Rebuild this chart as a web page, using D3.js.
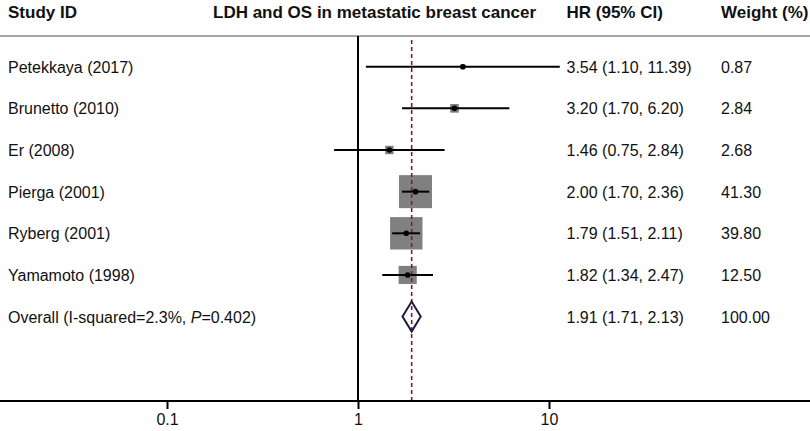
<!DOCTYPE html>
<html><head><meta charset="utf-8">
<script src="https://cdn.jsdelivr.net/npm/d3@7"></script>
<style>body{margin:0;background:#fff}svg{display:block}text{font-family:"Liberation Sans",Arial,sans-serif}</style>
</head><body>
<svg id="c" width="810" height="431"></svg>
<script>
const studies = ["Petekkaya (2017)","Brunetto (2010)","Er (2008)","Pierga (2001)","Ryberg (2001)","Yamamoto (1998)"];
const hr      = [3.54, 3.20, 1.46, 2.00, 1.79, 1.82];
const lower   = [1.10, 1.70, 0.75, 1.70, 1.51, 1.34];
const upper   = [11.39, 6.20, 2.84, 2.36, 2.11, 2.47];
const weights = [0.87, 2.84, 2.68, 41.30, 39.80, 12.50];
const overall = {label:"Overall (I-squared=2.3%, ", p:"P", rest:"=0.402)", hr:1.91, lo:1.71, hi:2.13, w:100.00};
const ticks = [0.1, 1, 10];
const headers = ["Study ID","LDH and OS in metastatic breast cancer","HR (95% CI)","Weight (%)"];

const svg = d3.select("#c");
const x = d3.scaleLog().domain([0.1, 10]).range([167, 549]);
const rows = studies.length + 1;
const y = d3.scaleLinear().domain([0, rows - 1]).range([66.7, 316.6]);
const side = d3.scaleSqrt().domain([0, 41.30]).range([0, 33]);
const fmt = d3.format(".2f");
const yTop = 36, yBottom = 401;
const colHR = 566.5, colW = 721;

// header
const hx = [8, 213, colHR, colW];
headers.forEach((h,i)=>svg.append("text").attr("x",hx[i]).attr("y",17.5).attr("font-size",17).attr("font-weight","bold").attr("fill","#111").text(h));
svg.append("line").attr("x1",0).attr("x2",810).attr("y1",yTop).attr("y2",yTop).attr("stroke","#888").attr("stroke-width",1.5);

// null line
svg.append("line").attr("x1",x(1)).attr("x2",x(1)).attr("y1",yTop).attr("y2",yBottom).attr("stroke","#000").attr("stroke-width",2);

// boxes
const g = svg.append("g");
studies.forEach((s,i)=>{
  const s2 = side(weights[i]);
  g.append("rect").attr("x",x(hr[i])-s2/2).attr("y",y(i)-s2/2).attr("width",s2).attr("height",s2).attr("fill","#808080");
});
// dashed overall line
svg.append("line").attr("x1",x(overall.hr)).attr("x2",x(overall.hr)).attr("y1",yTop+4).attr("y2",yBottom).attr("stroke","#7a1f2b").attr("stroke-width",1.6).attr("stroke-dasharray","4,3");

studies.forEach((s,i)=>{
  svg.append("line").attr("x1",x(lower[i])).attr("x2",x(upper[i])).attr("y1",y(i)).attr("y2",y(i)).attr("stroke","#000").attr("stroke-width",2);
  svg.append("circle").attr("cx",x(hr[i])).attr("cy",y(i)).attr("r",2.8).attr("fill","#000");
  svg.append("text").attr("x",8).attr("y",y(i)+6).attr("font-size",16).attr("fill","#111").text(s);
  svg.append("text").attr("x",colHR).attr("y",y(i)+6).attr("font-size",16).attr("fill","#111").text(`${fmt(hr[i])} (${fmt(lower[i])}, ${fmt(upper[i])})`);
  svg.append("text").attr("x",colW).attr("y",y(i)+6).attr("font-size",16).attr("fill","#111").text(fmt(weights[i]));
});

// overall diamond
const oy = y(rows-1);
svg.append("path").attr("d",`M${x(overall.lo)},${oy} L${x(overall.hr)},${oy-15} L${x(overall.hi)},${oy} L${x(overall.hr)},${oy+15} Z`)
  .attr("fill","none").attr("stroke","#1c1a40").attr("stroke-width",2);
const ot = svg.append("text").attr("x",8).attr("y",oy+6).attr("font-size",16).attr("fill","#111");
ot.append("tspan").text(overall.label);
ot.append("tspan").attr("font-style","italic").text(overall.p);
ot.append("tspan").text(overall.rest);
svg.append("text").attr("x",colHR).attr("y",oy+6).attr("font-size",16).attr("fill","#111").text(`${fmt(overall.hr)} (${fmt(overall.lo)}, ${fmt(overall.hi)})`);
svg.append("text").attr("x",colW).attr("y",oy+6).attr("font-size",16).attr("fill","#111").text(fmt(overall.w));

// axis
svg.append("line").attr("x1",0).attr("x2",810).attr("y1",yBottom).attr("y2",yBottom).attr("stroke","#000").attr("stroke-width",2);
const axis = d3.axisBottom(x).tickValues(ticks).tickFormat(d=>String(d)).tickSize(8).tickPadding(5);
const ag = svg.append("g").attr("transform",`translate(0,${yBottom})`).call(axis);
ag.select(".domain").remove();
ag.selectAll(".tick line").attr("stroke","#000").attr("stroke-width",2);
ag.selectAll(".tick text").attr("font-size",16).attr("fill","#111").attr("font-family","Liberation Sans, Arial, sans-serif");
</script>
</body></html>
